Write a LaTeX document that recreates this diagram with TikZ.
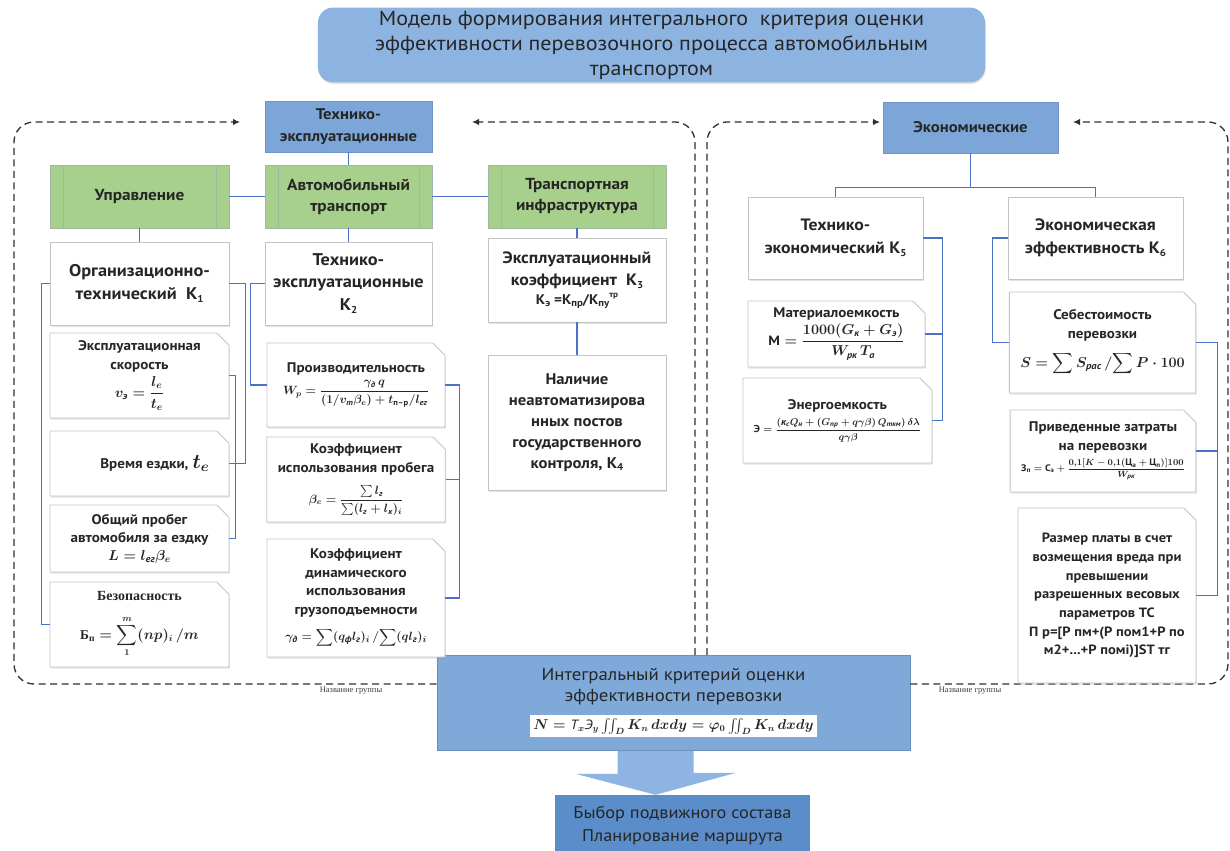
\documentclass[tikz,border=0pt]{standalone}
\usepackage{fontspec}
\usepackage{amsmath}
\setmainfont{PT Sans}[FakeStretch=1.08]
\newfontfamily\serifc{Liberation Serif}
\usetikzlibrary{shapes.misc,shadows,arrows.meta,calc}
\definecolor{txt}{HTML}{262626}
\definecolor{titlec}{HTML}{8DB4E0}
\definecolor{headc}{HTML}{7BA6D7}
\definecolor{headb}{HTML}{6C94C4}
\definecolor{greenc}{HTML}{A8D08D}
\definecolor{greenb}{HTML}{A0B8A6}
\definecolor{boxb}{HTML}{C4C4C4}
\definecolor{connc}{HTML}{4A72C8}
\definecolor{dashc}{HTML}{303030}
\definecolor{integc}{HTML}{7EA9D9}
\definecolor{arrowc}{HTML}{8DB4E2}
\definecolor{finalc}{HTML}{5A8DC9}
\newcommand\cy[1]{\text{\itshape #1}}
\newcommand\kix[1]{\raisebox{-0.35ex}{\fontsize{10}{10}\selectfont #1}}
\tikzset{
  conn/.style={draw=connc, line width=1.2bp},
  shad/.style={drop shadow={shadow xshift=0.8bp, shadow yshift=-1.6bp, opacity=0.22}},
  wbox/.style={draw=boxb, fill=white, line width=0.9bp, align=center, text=txt, shad,
    inner sep=2bp, font=\bfseries\fontsize{17}{23}\selectfont},
  formbox/.style={chamfered rectangle, chamfered rectangle corners=north east,
    chamfered rectangle xsep=9bp, draw=boxb, fill=white, line width=0.9bp, align=center,
    text=txt, shad, inner sep=2bp, font=\bfseries\fontsize{14}{19}\selectfont},
  gbox/.style={draw=greenb, fill=greenc, line width=0.9bp, align=center, text=txt,
    font=\bfseries\fontsize{16}{21}\selectfont,
    path picture={
      \draw[greenb, line width=0.8bp] ([xshift=13bp]path picture bounding box.north west) -- ([xshift=13bp]path picture bounding box.south west);
      \draw[greenb, line width=0.8bp] ([xshift=-13bp]path picture bounding box.north east) -- ([xshift=-13bp]path picture bounding box.south east);}},
  hbox/.style={draw=headb, fill=headc, line width=0.9bp, align=center, text=txt,
    font=\bfseries\fontsize{15.5}{22}\selectfont},
  grpline/.style={draw=dashc, line width=1.3bp, dash pattern=on 7bp off 4.5bp,
    rounded corners=20bp, -{Latex[length=7bp,width=6.5bp]}},
  grplab/.style={font=\serifc\fontsize{8.5}{9}\selectfont, text=black!75},
}
\begin{document}
\begin{tikzpicture}[x=1bp,y=-1bp]
\useasboundingbox (0,0) rectangle (1230,851);
\fill[white] (0,0) rectangle (1230,851);

% ---------- group frames
\coordinate (gb) at (0,684);
\coordinate (cL1) at (14,684);
\coordinate (cL2) at (14,122);
\coordinate (aL1) at (240,122);
\coordinate (cx1) at (695,0);
\coordinate (cL3) at (695,122);
\coordinate (aL2) at (472,122);
\coordinate (cx2) at (707,0);
\coordinate (cR1) at (707,122);
\coordinate (aR1) at (880,122);
\coordinate (cR2) at (1228,684);
\coordinate (cR3) at (1228,122);
\coordinate (aR2) at (1073,122);

\node[draw=integc!85!black, fill=integc, minimum width=473bp, minimum height=95bp, line width=0.8bp,
  align=center, text=txt, font=\fontsize{17.5}{21}\selectfont] (integ) at (673.5,703)
  {Интегральный критерий оценки\\эффективности перевозки\\[7bp]
   \colorbox{white}{\fontsize{13.5}{14}\selectfont\boldmath$N = \cy{Т}_x\cy{Э}_y\iint_D K_n\,dxdy = \varphi_0\iint_D K_n\,dxdy$}};

\draw[grpline] (integ.west |- gb) -- (cL1) -- (cL2) -- (aL1);
\draw[grpline] (integ.north -| cx1) -- (cL3) -- (aL2);
\draw[grpline] (integ.north -| cx2) -- (cR1) -- (aR1);
\draw[grpline] (integ.east |- gb) -- (cR2) -- (cR3) -- (aR2);
\node[grplab] (lab1) at (351,691) {Название группы};
\node[grplab] (lab2) at (970,691) {Название группы};

% ---------- title
\node[fill=titlec, rounded corners=15bp, minimum width=667bp, minimum height=74bp, align=center,
  text=txt, font=\fontsize{20.5}{25}\selectfont, shad] (title) at (651.5,45)
  {Модель формирования интегрального\ \ критерия оценки\\эффективности перевозочного процесса автомобильным\\транспортом};

% ---------- left group
\node[hbox, minimum width=167bp, minimum height=51bp] (tek) at (348.5,126.5) {Технико-\\эксплуатационные};
\node[gbox, minimum width=179bp, minimum height=63bp] (upr) at (139.5,196.5) {Управление};
\node[gbox, minimum width=167bp, minimum height=63bp] (avt) at (348.5,196.5) {Автомобильный\\транспорт};
\node[gbox, minimum width=178bp, minimum height=63bp] (inf) at (577,196.5) {Транспортная\\инфраструктура};

\node[wbox, minimum width=179bp, minimum height=83bp] (k1) at (139.5,283.5) {Организационно-\\технический\ \ К\kix{1}};
\node[wbox, minimum width=167bp, minimum height=83bp] (k2) at (348.5,283.5) {Технико-\\эксплуатационные\\К\kix{2}};
\node[wbox, minimum width=178bp, minimum height=84bp, font=\bfseries\fontsize{16.5}{22}\selectfont] (k3) at (577,280) {Эксплуатационный\\коэффициент\ \ К\kix{3}\\[-3bp]
  {\fontsize{14}{16}\selectfont К\kix{э} =К\kix{пр}/К\kix{пу}\raisebox{0.9ex}{\fontsize{8.5}{9}\selectfont тр}}};
\node[wbox, minimum width=178bp, minimum height=135bp, font=\bfseries\fontsize{15.5}{21}\selectfont] (k4) at (577,422.5)
  {Наличие\\неавтоматизирова\\нных постов\\государственного\\контроля, К\kix{4}};

\node[formbox, minimum width=179bp, minimum height=85bp] (fspeed) at (139.5,375.5)
  {Эксплуатационная\\скорость\\[3bp] {\boldmath$v_{\cy{э}} = \dfrac{l_e}{t_e}$}};
\node[formbox, minimum width=179bp, minimum height=65bp] (ftime) at (139.5,463.5)
  {\hspace*{2.2em}Время ездки, {\fontsize{21}{21}\selectfont\boldmath$t_e$}};
\node[formbox, minimum width=179bp, minimum height=67bp, font=\bfseries\fontsize{14}{18}\selectfont] (frun) at (139.5,538.5)
  {Общий пробег\\автомобиля за ездку\\ {\boldmath$L = l_{\cy{ег}}\beta_e$}};
\node[formbox, minimum width=179bp, minimum height=85bp] (fsafe) at (139.5,624.5)
  {{\serifc Безопасность}\\[14bp] {\fontsize{13.5}{15}\selectfont\boldmath$\text{\serifc Б}_{\text{\serifc п}} = \displaystyle\sum_{1}^{m}(np)_i\,/m$}};

\node[formbox, minimum width=178bp, minimum height=84bp] (fprod) at (356,385)
  {Производительность\\[3bp] {\fontsize{12}{14}\selectfont\boldmath$W_p = \dfrac{\gamma_{\cy{д}}\, q}{(1/v_{\cy{т}}\beta_e) + t_{\text{п--р}}/l_{\cy{ег}}}$}};
\node[formbox, minimum width=178bp, minimum height=85bp] (fbeta) at (356,479.5)
  {Коэффициент\\использования пробега\\[9bp] {\fontsize{12}{14}\selectfont\boldmath$\beta_e = \dfrac{\sum l_{\cy{г}}}{\sum (l_{\cy{г}} + l_{\cy{х}})_i}$}};
\node[formbox, minimum width=178bp, minimum height=118bp, font=\bfseries\fontsize{14}{18.5}\selectfont] (fgamma) at (356,598)
  {Коэффициент\\динамического\\использования\\грузоподъемности\\[8bp]
   {\fontsize{13}{15}\selectfont\boldmath$\gamma_{\cy{д}} = \displaystyle\sum (q_{\cy{ф}} l_{\cy{г}})_i \,/\! \sum (q l_{\cy{г}})_i$}};

% ---------- right group
\node[hbox, minimum width=175bp, minimum height=51bp] (eco) at (970.5,127.5) {Экономические};
\node[wbox, minimum width=175bp, minimum height=82bp, font=\bfseries\fontsize{16.5}{23}\selectfont] (k5) at (835.5,238) {Технико-\\экономический\ К\kix{5}};
\node[wbox, minimum width=175bp, minimum height=82bp, font=\bfseries\fontsize{16.5}{23}\selectfont] (k6) at (1095.5,238) {Экономическая\\эффективность\ К\kix{6}};

\node[formbox, minimum width=177bp, minimum height=66bp] (fmat) at (836.5,334)
  {Материалоемкость\\[2bp] {\fontsize{13.5}{15}\selectfont\boldmath$\text{М} = \dfrac{1000(G_{\cy{к}} + G_{\cy{э}})}{W_{\cy{рк}}\, T_{\cy{а}}}$}};
\node[formbox, minimum width=179bp, minimum height=85bp] (fen) at (837.5,420.5)
  {\\[-8bp]Энергоемкость\\[4bp] {\fontsize{10}{11}\selectfont\boldmath$\text{Э} = \dfrac{(\cy{к}_{\cy{с}} Q_{\cy{н}} + (G_{\cy{пр}} + q\gamma\beta)\, Q_{\cy{ткм}})\,\delta\lambda}{q\gamma\beta}$}};
\node[formbox, minimum width=179bp, minimum height=101bp] (fcost) at (1102.5,342.5)
  {Себестоимость\\перевозки\\[10bp] {\fontsize{14}{15}\selectfont\boldmath$S = \displaystyle\sum S_{\cy{рас}} \,/\! \sum P \cdot 100$}};
\node[formbox, minimum width=180bp, minimum height=82bp] (fred) at (1103,451)
  {Приведенные затраты\\на перевозки\\[2bp] {\fontsize{9.5}{11}\selectfont\boldmath$\text{З}_{\text{п}} = \text{С}_{\text{э}} + \dfrac{0{,}1[K - 0{,}1(\text{Ц}_{\text{а}} + \text{Ц}_{\text{п}})]100}{W_{\cy{рк}}}$}};
\node[formbox, minimum width=178bp, minimum height=175bp, font=\bfseries\fontsize{13.5}{18.8}\selectfont] (ffee) at (1107,595.5)
  {Размер платы в счет\\возмещения вреда при\\превышении\\разрешенных весовых\\параметров ТС\\П р=[Р пм+(Р пом1+Р по\\м2+...+Р помi)]ST тг};

% ---------- bottom
\node[fill=finalc, minimum width=255bp, minimum height=62bp, align=center, text=txt,
  font=\fontsize{17}{23}\selectfont] (final) at (682.5,826) {Быбор подвижного состава\\Планирование маршрута};
\fill[arrowc] ($(integ.south)+(-56bp,0)$) -- ++(76bp,0) -- ++(0,-22bp) -- ++(42bp,0)
  -- ($(final.north)+(-27bp,0)$) -- ++(-80bp,21bp) -- ++(42bp,0) -- cycle;

% ---------- connectors
\draw[conn] (tek.south) -- (avt.north);
\draw[conn] (upr.east) -- (avt.west);
\draw[conn] (avt.east) -- (inf.west);
\draw[conn] (upr.south) -- (k1.north);
\draw[conn] (avt.south) -- (k2.north);
\draw[conn] (inf.south) -- (k3.north);
\draw[conn] (k3.south) -- (k4.north);
\draw[conn] (k1.west) -- ++(-8bp,0) |- (fsafe.west);
\draw[conn] (k1.east) -- ++(16bp,0) |- (ftime.east);
\draw[conn] (fspeed.east) -- ++(6bp,0) |- (frun.east);
\draw[conn] (k2.west) -- ++(-14bp,0) |- (fprod.west);
\draw[conn] (fprod.east) -- ++(14bp,0) coordinate (vm) |- (fgamma.east);
\draw[conn] (fbeta.east) -- (fbeta.east -| vm);
\draw[conn] (eco.south) -- ++(0,-34bp) coordinate (ej) -| (k5.north);
\draw[conn] (ej) -| (k6.north);
\draw[conn] (k5.east) -- ++(19bp,0) coordinate (v5) |- (fen.east);
\draw[conn] (fmat.east) -- (fmat.east -| v5);
\draw[conn] (k6.west) -- ++(-15bp,0) |- (fcost.west);
\draw[conn] (fcost.east) -- ++(21bp,0) coordinate (v6) |- (ffee.east);
\draw[conn] (fred.east) -- (fred.east -| v6);
\end{tikzpicture}
\end{document}
